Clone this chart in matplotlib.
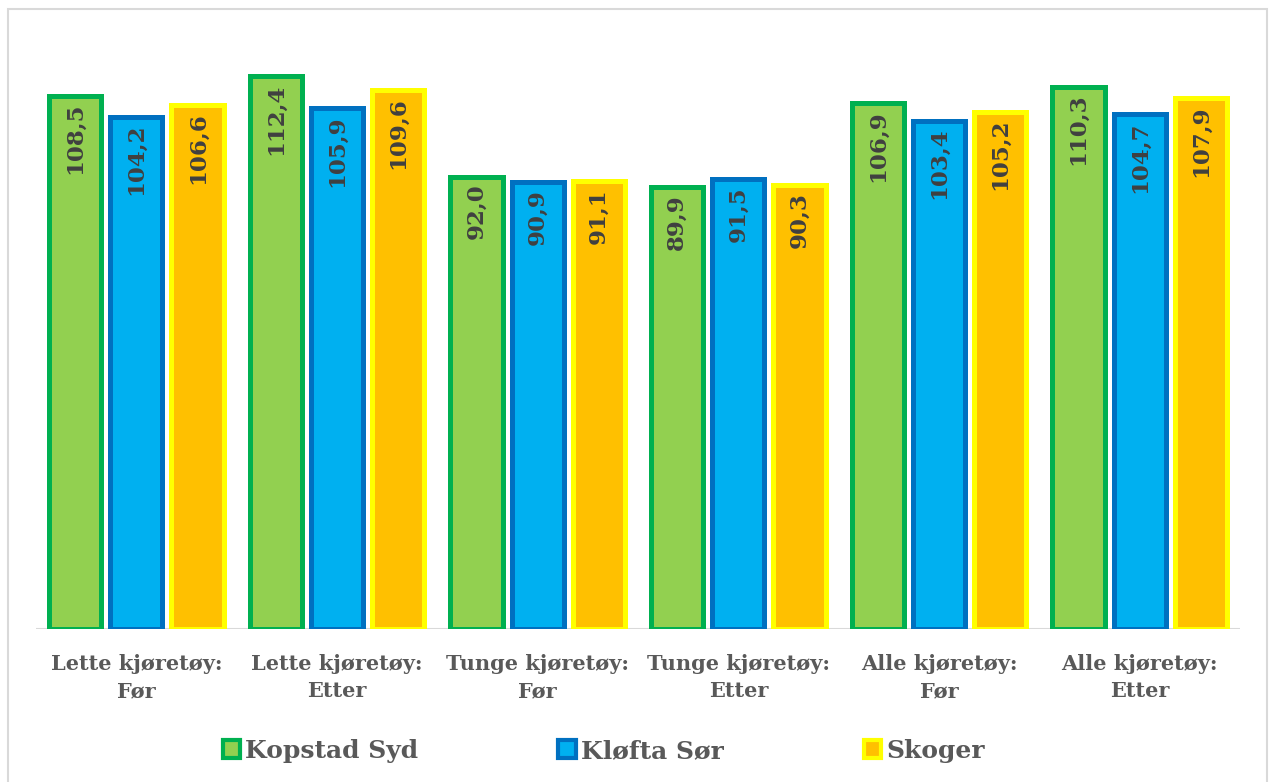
import numpy as np
import matplotlib
matplotlib.use("Agg")
import matplotlib.pyplot as plt
from matplotlib.patches import Patch

categories = ["Lette kjøretøy:\nFør", "Lette kjøretøy:\nEtter", "Tunge kjøretøy:\nFør",
              "Tunge kjøretøy:\nEtter", "Alle kjøretøy:\nFør", "Alle kjøretøy:\nEtter"]
series_names = ["Kopstad Syd", "Kløfta Sør", "Skoger"]
kopstad = [108.5, 112.4, 92.0, 89.9, 106.9, 110.3]
klofta = [104.2, 105.9, 90.9, 91.5, 103.4, 104.7]
skoger = [106.6, 109.6, 91.1, 90.3, 105.2, 107.9]

fills = ["#92D050", "#00B0F0", "#FFC000"]
edges = ["#00B050", "#0070C0", "#FFFF00"]
txt = "#595959"

plt.rcParams["font.family"] = ["DejaVu Serif"]
plt.rcParams["font.weight"] = "bold"

fig = plt.figure(figsize=(12.71, 7.82), dpi=100)
# light grey chart border
fig.patches.append(plt.Rectangle((0.006, -0.01), 0.991, 0.999, transform=fig.transFigure,
                                 fill=False, edgecolor="#D9D9D9", linewidth=1.5))
ax = fig.add_axes([36 / 1271, 153 / 782, 1204 / 1271, 590 / 782])

x = np.arange(len(categories))
width = 0.26
step = 0.305
for i, vals in enumerate([kopstad, klofta, skoger]):
    pos = x + (i - 1) * step
    ax.bar(pos, vals, width, color=fills[i], edgecolor=edges[i], linewidth=3.6, zorder=2)
    for p, v in zip(pos, vals):
        ax.text(p, v - 1.4, f"{v:.1f}".replace(".", ","), rotation=90, ha="center", va="top",
                fontsize=16.5, fontweight="bold", color="#404040", zorder=3)

ax.set_xlim(-0.5, len(categories) - 0.5)
ax.set_ylim(0, 120)
ax.axhline(0, color="#D9D9D9", linewidth=1.5, zorder=1)
for s in ax.spines.values():
    s.set_visible(False)
ax.set_yticks([])
ax.set_xticks(x)
ax.set_xticklabels(categories, fontsize=15, fontweight="bold", color=txt, linespacing=1.45)
ax.tick_params(axis="x", length=0, pad=18)

handles = [Patch(facecolor=fills[i], edgecolor=edges[i], linewidth=3) for i in range(3)]
fig.legend(handles, series_names, loc="center", bbox_to_anchor=(0.475, 0.04), ncol=3,
           frameon=False, handlelength=0.7, handleheight=0.7, handletextpad=0.2,
           columnspacing=5.6, prop={"size": 18, "weight": "bold"}, labelcolor=txt)

fig.savefig("out.png", dpi=100)
